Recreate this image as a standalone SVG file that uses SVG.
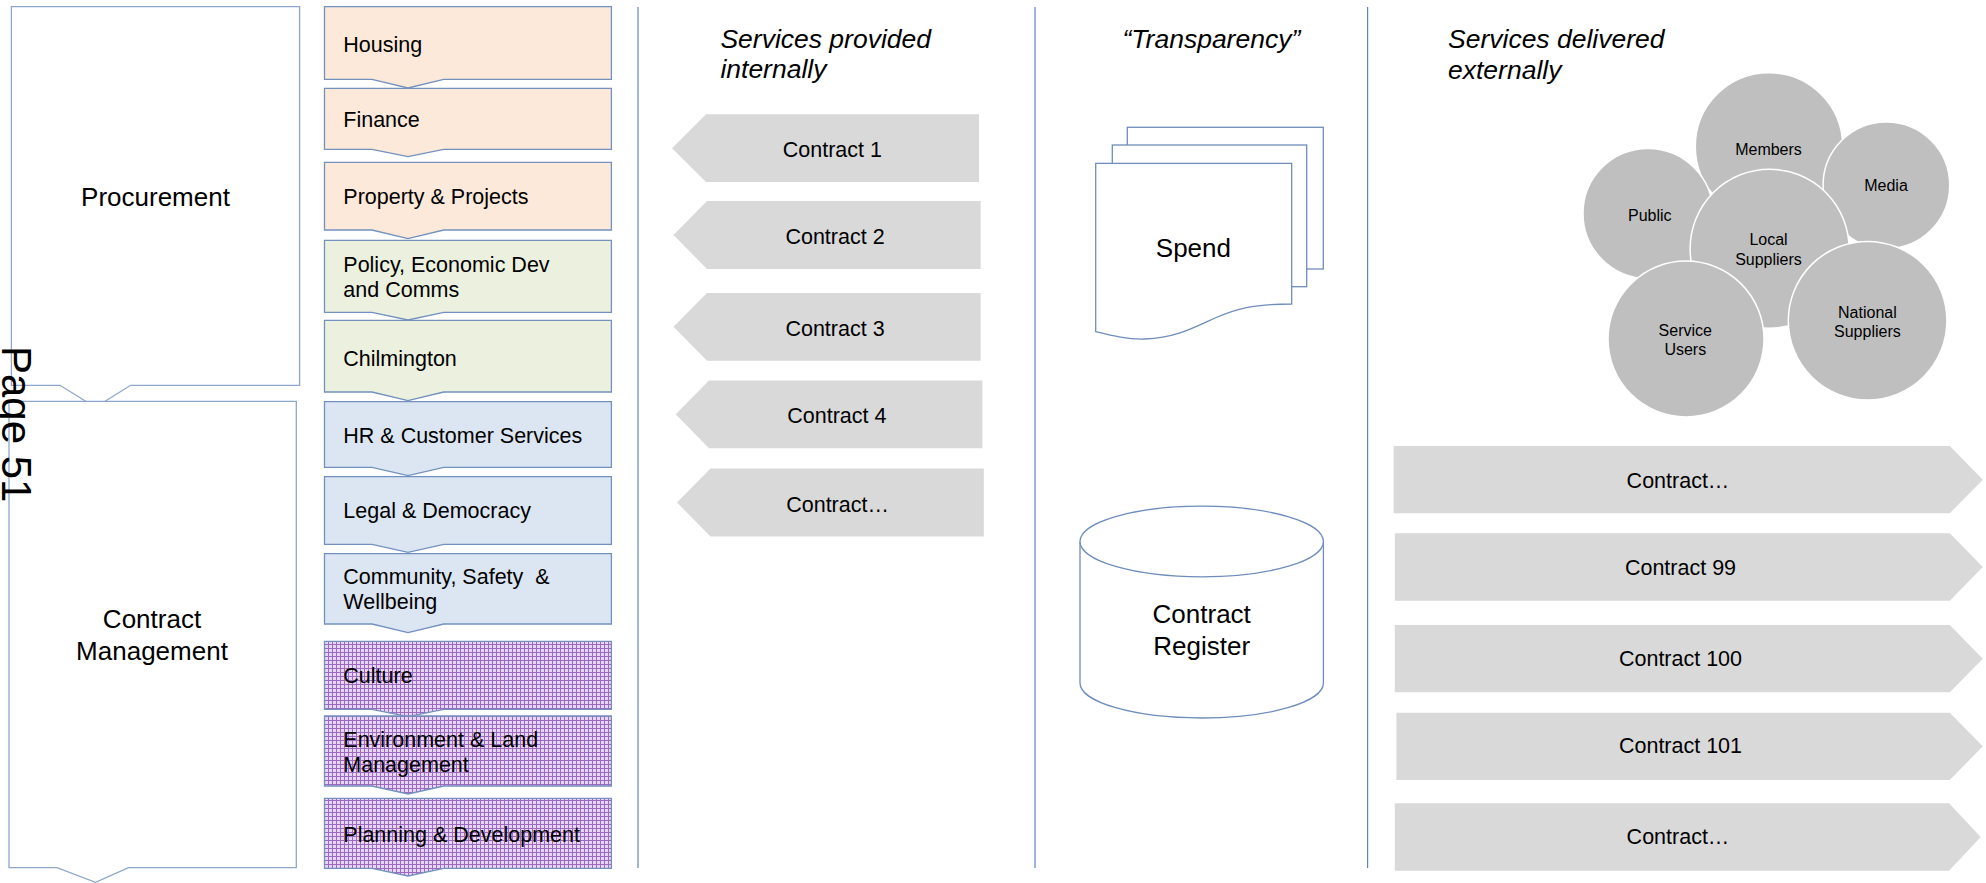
<svg xmlns="http://www.w3.org/2000/svg" width="1986" height="883" viewBox="0 0 1986 883">
  <defs>
    <pattern id="lavenderGrid" width="4" height="4" patternUnits="userSpaceOnUse">
      <rect width="4" height="4" fill="#E6D6F0"/>
      <path d="M0,0.5H4M0.5,0V4" stroke="#9D68C2" stroke-width="1"/>
    </pattern>
    <style>
      text { font-family: "Liberation Sans", Arial, sans-serif; fill: #000; }
      .frame { fill: #fff; stroke: #8EA6CB; stroke-width: 1.3; }
      .step { stroke: #7391BE; stroke-width: 1.3; }
      .peach { fill: #FDE9D9; }
      .green { fill: #EBF1DE; }
      .blue { fill: #DCE6F2; }
      .lav { fill: url(#lavenderGrid); }
      .step-label { font-size: 21.5px; }
      .big { font-size: 26px; }
      .head { font-size: 26.5px; font-style: italic; }
      .arrow { fill: #D9D9D9; }
      .arrow-label { font-size: 21.5px; text-anchor: middle; }
      .sheet { fill: #fff; stroke: #6F8DBA; stroke-width: 1.3; }
      .bubble { fill: #BFBFBF; stroke: #fff; stroke-width: 1.5; }
      .bubble-label { font-size: 16px; text-anchor: middle; }
      .divider { stroke: #5B86C5; stroke-width: 1.2; }
      .mid { text-anchor: middle; }
    </style>
  </defs>

  <rect width="1986" height="883" fill="#fff"/>

  <!-- column dividers -->
  <g id="dividers">
    <line class="divider" x1="638" y1="7" x2="638" y2="868"/>
    <line class="divider" x1="1035" y1="7" x2="1035" y2="868"/>
    <line class="divider" x1="1367.6" y1="7" x2="1367.6" y2="868"/>
  </g>

  <!-- left-hand phase blocks -->
  <g id="procurement">
    <path class="frame" d="M11.4,6.7H299.6V385.3H130.6L95.5,407.3L60,385.3H11.4Z"/>
    <text class="big mid" x="155.5" y="206">Procurement</text>
  </g>
  <g id="contract-management">
    <path class="frame" d="M9,401.3H296.3V867.7H128.6L95.5,882.3L57,867.7H9Z"/>
    <text class="big mid" x="152" y="628">Contract</text>
    <text class="big mid" x="152" y="660">Management</text>
  </g>

  <text id="page-number" transform="translate(2,346) rotate(90)" font-size="42">Page 51</text>

  <!-- service area steps -->
  <g id="housing">
    <path class="step peach" d="M324.5,6.7H611.4V79.3H443.7L408,88L372,79.3H324.5Z"/>
    <text class="step-label" x="343.3" y="52">Housing</text>
  </g>
  <g id="finance">
    <path class="step peach" d="M324.5,88.3H611.4V149.3H443.7L408,156.7L372,149.3H324.5Z"/>
    <text class="step-label" x="343.3" y="127">Finance</text>
  </g>
  <g id="property-projects">
    <path class="step peach" d="M324.5,162.3H611.4V230H443.7L408,238.7L372,230H324.5Z"/>
    <text class="step-label" x="343.3" y="204">Property &amp; Projects</text>
  </g>
  <g id="policy">
    <path class="step green" d="M324.5,240.3H611.4V312.3H443.7L408,320L372,312.3H324.5Z"/>
    <text class="step-label" x="343.3" y="272">Policy, Economic Dev</text>
    <text class="step-label" x="343.3" y="296.7">and Comms</text>
  </g>
  <g id="chilmington">
    <path class="step green" d="M324.5,320.3H611.4V392H443.7L408,400.7L372,392H324.5Z"/>
    <text class="step-label" x="343.3" y="365.6">Chilmington</text>
  </g>
  <g id="hr-customer">
    <path class="step blue" d="M324.5,401.7H611.4V467.3H443.7L408,475.7L372,467.3H324.5Z"/>
    <text class="step-label" x="343.3" y="442.7">HR &amp; Customer Services</text>
  </g>
  <g id="legal">
    <path class="step blue" d="M324.5,476.7H611.4V544.3H443.7L408,552.3L372,544.3H324.5Z"/>
    <text class="step-label" x="343.3" y="518.3">Legal &amp; Democracy</text>
  </g>
  <g id="community">
    <path class="step blue" d="M324.5,553.7H611.4V624H443.7L408,632.7L372,624H324.5Z"/>
    <text class="step-label" x="343.3" y="584.3" xml:space="preserve">Community, Safety  &amp;</text>
    <text class="step-label" x="343.3" y="609.3">Wellbeing</text>
  </g>
  <g id="culture">
    <path class="step lav" d="M324.5,641.3H611.4V709.3H443.7L408,716.7L372,709.3H324.5Z"/>
    <text class="step-label" x="343.3" y="683.3">Culture</text>
  </g>
  <g id="environment">
    <path class="step lav" d="M324.5,716H611.4V786H443.7L408,794L372,786H324.5Z"/>
    <text class="step-label" x="343.3" y="746.7">Environment &amp; Land</text>
    <text class="step-label" x="343.3" y="771.7">Management</text>
  </g>
  <g id="planning">
    <path class="step lav" d="M324.5,798.3H611.4V868.3H443.7L408,876L372,868.3H324.5Z"/>
    <text class="step-label" x="343.3" y="841.7">Planning &amp; Development</text>
  </g>

  <!-- internal services -->
  <g id="internal-heading">
    <text class="head" x="720.4" y="47.5">Services provided</text>
    <text class="head" x="720.4" y="78">internally</text>
  </g>
  <g id="contract-1">
    <path class="arrow" d="M672,148.2L706,114.3H979V182H706Z"/>
    <text class="arrow-label" x="832.4" y="157">Contract 1</text>
  </g>
  <g id="contract-2">
    <path class="arrow" d="M673.5,235L707,201H980.6V269H707Z"/>
    <text class="arrow-label" x="835" y="244">Contract 2</text>
  </g>
  <g id="contract-3">
    <path class="arrow" d="M673.5,326.8L707,292.9H980.6V360.7H707Z"/>
    <text class="arrow-label" x="835" y="335.7">Contract 3</text>
  </g>
  <g id="contract-4">
    <path class="arrow" d="M675.7,414.3L709,380.4H982.4V448.2H709Z"/>
    <text class="arrow-label" x="836.9" y="422.5">Contract 4</text>
  </g>
  <g id="contract-internal-more">
    <path class="arrow" d="M677,502.5L710.5,468.6H983.8V536.4H710.5Z"/>
    <text class="arrow-label" x="837.6" y="511.8">Contract…</text>
  </g>

  <!-- transparency -->
  <text id="transparency-heading" class="head mid" x="1211.4" y="48">“Transparency”</text>
  <g id="spend">
    <rect class="sheet" x="1127.3" y="127.3" width="196" height="141.7"/>
    <rect class="sheet" x="1112.3" y="145" width="194.4" height="141.7"/>
    <path class="sheet" d="M1095.7,163.3H1291.7V304C1252,304 1236,309 1215,318C1193,328 1175,338 1145,339C1128,339.6 1113,336 1095.7,331.7Z"/>
    <text class="big mid" x="1193.4" y="257.3">Spend</text>
  </g>
  <g id="contract-register">
    <path class="sheet" d="M1080,541.5V683A121.7,35 0 0 0 1323.4,683V541.5"/>
    <ellipse class="sheet" cx="1201.7" cy="541.5" rx="121.7" ry="35.3"/>
    <text class="big mid" x="1201.7" y="622.7">Contract</text>
    <text class="big mid" x="1201.7" y="655">Register</text>
  </g>

  <!-- external services -->
  <g id="external-heading">
    <text class="head" x="1448" y="48">Services delivered</text>
    <text class="head" x="1448" y="79">externally</text>
  </g>
  <g id="stakeholders">
    <g id="members">
      <circle class="bubble" cx="1769" cy="146.4" r="73.7"/>
      <text class="bubble-label" x="1768.5" y="155">Members</text>
    </g>
    <g id="media">
      <circle class="bubble" cx="1886.4" cy="185.3" r="63.3"/>
      <text class="bubble-label" x="1886" y="190.7">Media</text>
    </g>
    <g id="public">
      <circle class="bubble" cx="1648" cy="213.5" r="65"/>
      <text class="bubble-label" x="1649.8" y="220.7">Public</text>
    </g>
    <g id="local-suppliers">
      <circle class="bubble" cx="1769.6" cy="248.7" r="79.5"/>
      <text class="bubble-label" x="1768.5" y="245">Local</text>
      <text class="bubble-label" x="1768.5" y="265">Suppliers</text>
    </g>
    <g id="service-users">
      <circle class="bubble" cx="1686" cy="339" r="78"/>
      <text class="bubble-label" x="1685.3" y="336">Service</text>
      <text class="bubble-label" x="1685.3" y="355">Users</text>
    </g>
    <g id="national-suppliers">
      <circle class="bubble" cx="1867.6" cy="320.7" r="79.3"/>
      <text class="bubble-label" x="1867.4" y="318.3">National</text>
      <text class="bubble-label" x="1867.4" y="337.3">Suppliers</text>
    </g>
  </g>
  <g id="contract-external-more-a">
    <path class="arrow" d="M1393.6,446H1949.8L1982.8,479.7L1949.8,513.3H1393.6Z"/>
    <text class="arrow-label" x="1678" y="488.3">Contract…</text>
  </g>
  <g id="contract-99">
    <path class="arrow" d="M1394.8,533.3H1949.8L1982.8,567L1949.8,600.7H1394.8Z"/>
    <text class="arrow-label" x="1680.5" y="575">Contract 99</text>
  </g>
  <g id="contract-100">
    <path class="arrow" d="M1394.8,625H1949.8L1982.8,658.7L1949.8,692.3H1394.8Z"/>
    <text class="arrow-label" x="1680.5" y="665.7">Contract 100</text>
  </g>
  <g id="contract-101">
    <path class="arrow" d="M1396.4,712.7H1949.8L1982.8,746.3L1949.8,780H1396.4Z"/>
    <text class="arrow-label" x="1680.5" y="753.3">Contract 101</text>
  </g>
  <g id="contract-external-more-b">
    <path class="arrow" d="M1394.8,803.3H1949L1980.7,837L1949,870.7H1394.8Z"/>
    <text class="arrow-label" x="1678" y="844.3">Contract…</text>
  </g>
</svg>
